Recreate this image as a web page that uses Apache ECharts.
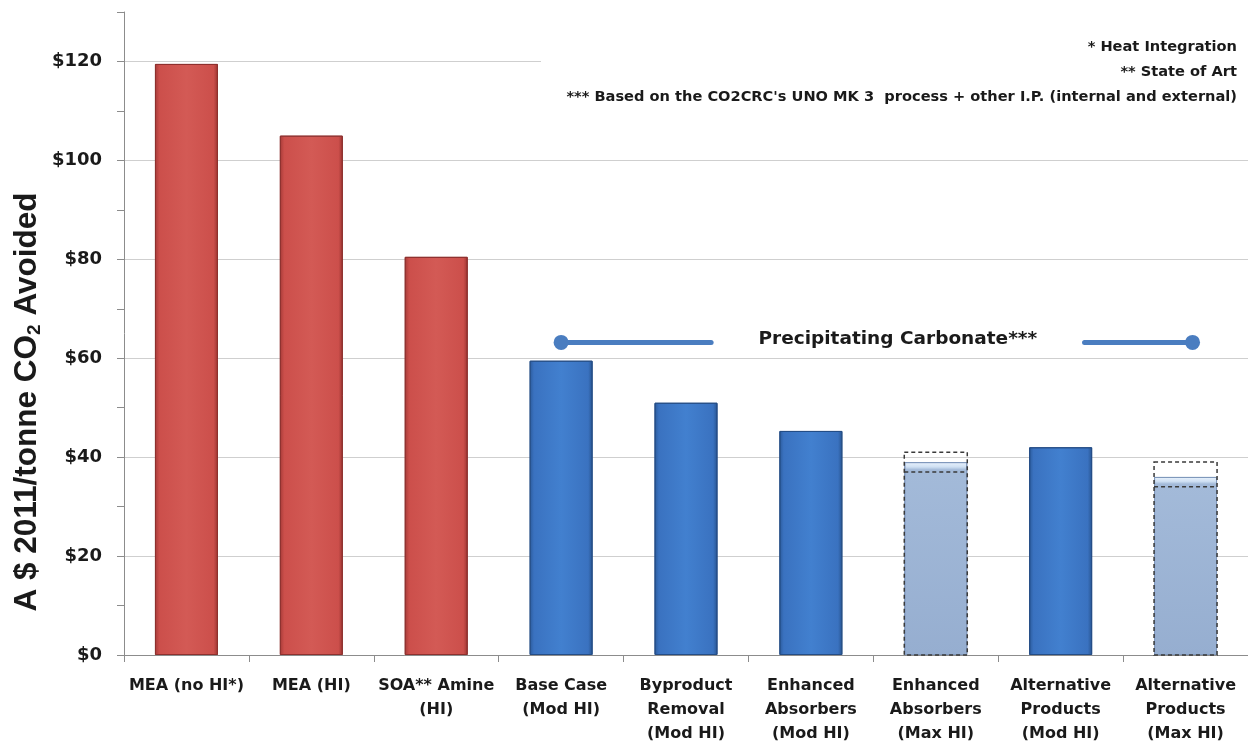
<!DOCTYPE html>
<html>
<head>
<meta charset="utf-8">
<title>Capture cost comparison</title>
<script src="https://cdn.jsdelivr.net/npm/echarts@6/dist/echarts.min.js"></script>
<style>
  html, body { margin: 0; padding: 0; background: #ffffff; }
  #chart { width: 1248px; height: 746px; }
</style>
</head>
<body>
<div id="chart"></div>
<script>
// Capture technology options
const categories = [
  'MEA (no HI*)',
  'MEA (HI)',
  'SOA** Amine\n(HI)',
  'Base Case\n(Mod HI)',
  'Byproduct\nRemoval\n(Mod HI)',
  'Enhanced\nAbsorbers\n(Mod HI)',
  'Enhanced\nAbsorbers\n(Max HI)',
  'Alternative\nProducts\n(Mod HI)',
  'Alternative\nProducts\n(Max HI)'
];

// Technology family of each option
const family = ['amine', 'amine', 'amine', 'carbonate', 'carbonate', 'carbonate', 'carbonateMax', 'carbonate', 'carbonateMax'];

// Cost of CO2 avoided (A$ 2011 / tonne)
const costs = [119.5, 105, 80.5, 59.5, 51, 45.3, 39, 42, 36];

// Uncertainty range for the maximum heat integration cases: [category index, low, high]
const ranges = [
  [6, 37, 41],
  [8, 34, 39]
];

// Value axis ticks
const yMax = 130;
const yStep = 10;

const fill = {
  amine: {
    type: 'linear', x: 0, y: 0, x2: 1, y2: 0,
    colorStops: [
      { offset: 0, color: '#a53a37' },
      { offset: 0.07, color: '#cc4f4b' },
      { offset: 0.5, color: '#d35a55' },
      { offset: 0.93, color: '#cc4f4b' },
      { offset: 1, color: '#9c3532' }
    ]
  },
  carbonate: {
    type: 'linear', x: 0, y: 0, x2: 1, y2: 0,
    colorStops: [
      { offset: 0, color: '#2b5a9b' },
      { offset: 0.07, color: '#3a72c0' },
      { offset: 0.5, color: '#4280cf' },
      { offset: 0.93, color: '#3a72c0' },
      { offset: 1, color: '#28548f' }
    ]
  },
  carbonateMax: {
    type: 'linear', x: 0, y: 0, x2: 0, y2: 1,
    colorStops: [
      { offset: 0, color: '#eaf3fd' },
      { offset: 0.025, color: '#cfe0f3' },
      { offset: 0.04, color: '#a3bad9' },
      { offset: 1, color: '#96aed0' }
    ]
  }
};
const edge = { amine: '#8e302e', carbonate: '#244d86', carbonateMax: '#7f98bc' };

const barData = costs.map((v, i) => ({
  value: v,
  itemStyle: { color: fill[family[i]], borderColor: edge[family[i]], borderWidth: 1 }
}));

const chart = echarts.init(document.getElementById('chart'), null, { renderer: 'canvas' });

const option = {
  animation: false,
  backgroundColor: '#ffffff',
  grid: { left: 124, right: 0, top: 12, bottom: 91, outerBoundsMode: 'none', containLabel: false },
  xAxis: {
    type: 'category',
    data: categories,
    boundaryGap: true,
    axisLine: { show: true, lineStyle: { color: '#8c8c8c', width: 1 } },
    axisTick: { show: true, length: 7, lineStyle: { color: '#8c8c8c' } },
    axisLabel: {
      interval: 0,
      margin: 19,
      color: '#1a1a1a',
      fontFamily: 'DejaVu Sans',
      fontWeight: 'bold',
      fontSize: 16,
      lineHeight: 24,
      align: 'center'
    },
    splitLine: { show: false }
  },
  yAxis: {
    type: 'value',
    min: 0,
    max: yMax,
    interval: yStep,
    axisLine: { show: true, lineStyle: { color: '#8c8c8c', width: 1 } },
    axisTick: { show: true, length: 7, lineStyle: { color: '#8c8c8c' } },
    axisLabel: {
      margin: 22,
      color: '#1a1a1a',
      fontFamily: 'DejaVu Sans',
      fontWeight: 'bold',
      fontSize: 18,
      formatter: v => (v % 20 === 0 ? '$' + v : '')
    },
    // gridlines every $20: alternate between visible and hidden lines
    splitLine: { show: true, lineStyle: { color: ['#cfcfcf', 'rgba(0,0,0,0)'], width: 1 } }
  },
  series: [
    {
      name: 'Cost',
      type: 'bar',
      barWidth: 63,
      z: 2,
      data: barData
    },
    {
      name: 'Range',
      type: 'custom',
      z: 3,
      data: ranges,
      encode: { x: 0, y: [1, 2] },
      renderItem: function (params, api) {
        const idx = api.value(0);
        const base = api.coord([idx, 0]);
        const lo = api.coord([idx, api.value(1)]);
        const hi = api.coord([idx, api.value(2)]);
        const w = 63;
        const x0 = base[0] - w / 2;
        const dash = { stroke: '#3a3a3a', lineWidth: 1.5, lineDash: [4, 3], fill: null };
        return {
          type: 'group',
          children: [
            { type: 'rect', shape: { x: x0, y: hi[1], width: w, height: base[1] - hi[1] }, style: dash },
            { type: 'line', shape: { x1: x0, y1: lo[1], x2: x0 + w, y2: lo[1] }, style: dash }
          ]
        };
      }
    }
  ]
};

chart.setOption(option);

// Bracket marking the precipitating carbonate options
const bracketLevel = 63.2;
const leftEnd = chart.convertToPixel({ gridIndex: 0 }, [3, bracketLevel]);
const rightEnd = chart.convertToPixel({ gridIndex: 0 }, [8, bracketLevel]);
const bracketColor = '#4a7dc0';
const lx = leftEnd[0];
const rx = rightEnd[0] + 7;
const by = leftEnd[1];

const noteFont = 'bold 14.6px "DejaVu Sans"';

chart.setOption({
  graphic: [
    // value axis title
    {
      type: 'text', z: 30, silent: true,
      x: 27, y: 402, rotation: Math.PI / 2,
      style: {
        text: 'A $ 2011/tonne CO{sub|2} Avoided',
        align: 'center', verticalAlign: 'middle',
        fill: '#1a1a1a', font: 'bold 31.5px "Liberation Sans"',
        rich: {
          sub: { font: 'bold 19px "Liberation Sans"', fill: '#1a1a1a', padding: [15, 0, 0, 0] }
        }
      }
    },
    // note box in the upper right
    {
      type: 'rect', z: 50, silent: true,
      shape: { x: 541, y: 28, width: 707, height: 86 },
      style: { fill: '#ffffff' }
    },
    {
      type: 'text', z: 51, silent: true,
      style: {
        x: 1237, y: 47,
        text: '* Heat Integration',
        align: 'right', verticalAlign: 'middle',
        fill: '#1a1a1a', font: noteFont
      }
    },
    {
      type: 'text', z: 51, silent: true,
      style: {
        x: 1237, y: 72,
        text: '** State of Art',
        align: 'right', verticalAlign: 'middle',
        fill: '#1a1a1a', font: noteFont
      }
    },
    {
      type: 'text', z: 51, silent: true,
      style: {
        x: 1237, y: 97,
        text: "*** Based on the CO2CRC's UNO MK 3  process + other I.P. (internal and external)",
        align: 'right', verticalAlign: 'middle',
        fill: '#1a1a1a', font: noteFont
      }
    },
    {
      type: 'line', z: 20, silent: true,
      shape: { x1: lx, y1: by, x2: lx + 150, y2: by },
      style: { stroke: bracketColor, lineWidth: 5, lineCap: 'round' }
    },
    {
      type: 'circle', z: 21, silent: true,
      shape: { cx: lx, cy: by, r: 7.5 },
      style: { fill: bracketColor }
    },
    {
      type: 'line', z: 20, silent: true,
      shape: { x1: rx - 108, y1: by, x2: rx, y2: by },
      style: { stroke: bracketColor, lineWidth: 5, lineCap: 'round' }
    },
    {
      type: 'circle', z: 21, silent: true,
      shape: { cx: rx, cy: by, r: 7.5 },
      style: { fill: bracketColor }
    },
    {
      type: 'text', z: 21, silent: true,
      style: {
        x: (lx + 150 + rx - 108) / 2, y: by - 3,
        text: 'Precipitating Carbonate***',
        align: 'center', verticalAlign: 'middle',
        fill: '#1a1a1a', font: 'bold 18.5px "DejaVu Sans"'
      }
    }
  ]
});
</script>
</body>
</html>
